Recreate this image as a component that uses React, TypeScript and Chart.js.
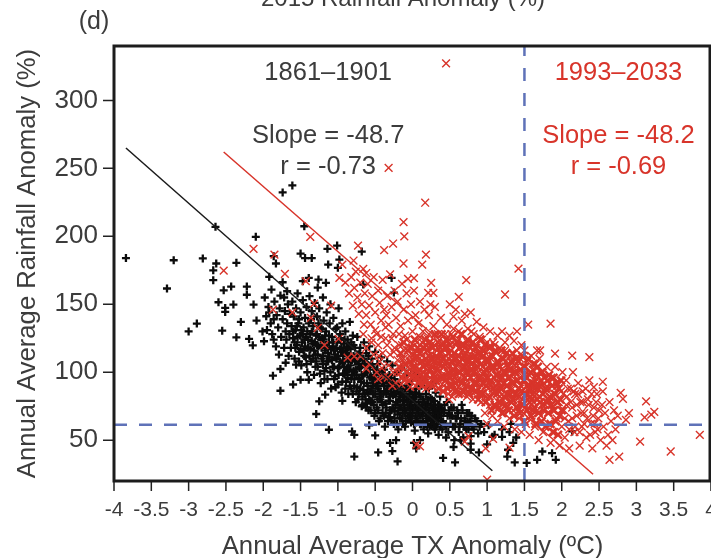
import React, { useEffect, useRef } from "react";
import { Chart, registerables } from "chart.js";

Chart.register(...registerables);

const xTicks = [-4, -3.5, -3, -2.5, -2, -1.5, -1, -0.5, 0, 0.5, 1, 1.5, 2, 2.5, 3, 3.5, 4];
const yTicks = [50, 100, 150, 200, 250, 300];

const blackFit = [-3.84, 265, 1.07, 27.5];
const redFit = [-2.53, 262, 2.42, 25];
const thresholdX = 1.5;
const thresholdY = 61.4;

// flat lists: x, y, x, y ...
const blackOutliers = [
-3.84,184,-3.2,182.4,-2.81,183.7,-2.63,180,-2.67,175,-2.36,180.5,-2.67,167.7,-3.29,161.6,-2.53,160.3,-2.43,163,-2.22,163,-2.22,157,-2.64,207,-2.1,199.6,-1.74,232.3,-1.61,237.4,-1.45,207.4,-1.14,190.8,-1.01,193.2,-0.68,188.8,-1.5,187.3,-1.44,184,-1.35,184,-1.86,185.4,-1.83,180,-1.13,179.2,-1,176.8,-0.98,182.9,-1.92,170.2,-1.74,166.2,-1.39,169.4,-1.47,167,-1.26,168.2,-1.16,165.8,-1.27,162.3,-0.66,164.5,-0.28,169.4,-0.25,158.6,-1.89,160.8,-1.77,156.4,-1.68,159.6,
-3,130,-2.89,135.8,-2.6,151.5,-2.51,147.3,-2.51,144.4,-2.4,149.8,-2.13,149.8,-2.55,130.6,-2.3,137,-2.09,138,-2.36,125.7,-2.19,124.5,-2.14,119.8,-2.01,130,-1.99,122.8,-1.86,124,-1.96,141.2,-1.87,97.5,-1.77,102.4,-1.77,86.4,-1.6,91,-1.5,94.5,-1.39,94.5,-1.7,107,-1.56,105.6,-1.29,69.3,-1.12,57.7,-1.25,78.6,-1.17,83.5,-0.94,79,-0.81,56.5,-0.78,54,-0.78,38,-0.46,41,-0.2,34.4,-0.5,53.5,-0.27,42,-0.22,50,-0.3,48,-0.58,61,
0.41,37,0.57,33.7,1.37,33.7,1.53,33.3,1.67,35.6,1.92,35.6,1.87,40.5,1.74,41.7,1.28,43,1.27,38,2.14,56.5,1.39,52,1.35,48,1.2,52.5,1.07,52.5,1,47,0.89,41,0.78,43,0.78,47.5,0.65,50,0.55,45,0.45,52,0.02,48,0.05,44,0.1,50,
];
const blackLeftBand = [
-1.98,155,-1.93,148,-1.9,136,-1.88,128,-1.85,152,-1.82,142,-1.8,133,-1.78,147,-1.76,126,-1.74,139,-1.72,155,-1.7,130,-1.95,131,-1.83,119,-1.79,113,-1.72,118,-1.71,145,-1.86,139,-1.92,144,-1.69,124,-1.68,136,-1.67,150,-1.66,112,-1.65,128,-1.64,143,
-1.63,118,-1.62,134,-1.61,152,-1.6,125,-1.59,141,-1.58,110,-1.57,131,-1.56,147,-1.55,120,-1.54,158,-1.53,136,-1.52,115,-1.51,127,-1.5,144,-1.49,105,-1.48,122,-1.47,153,-1.46,133,-1.45,112,-1.44,140,-1.43,126,-1.42,148,-1.41,100,-1.4,118,-1.39,136,-1.38,156,-1.37,128,-1.36,108,-1.35,145,-1.34,121,-1.33,134,-1.32,98,-1.31,151,-1.3,113,-1.29,127,-1.28,141,-1.27,104,-1.26,119,-1.25,147,-1.24,133,-1.23,92,-1.22,110,-1.21,125,-1.2,155,-1.19,138,-1.18,101,-1.17,116,-1.16,130,-1.15,144,-1.14,95,-1.13,108,-1.12,122,-1.11,136,-1.1,150,
-1.58,122,-1.55,134,-1.5,117,-1.47,128,-1.44,119,-1.41,130,-1.38,112,-1.35,123,-1.32,116,-1.29,108,-1.26,136,-1.23,124,-1.2,106,-1.17,127,-1.14,118,-1.11,111,-1.52,139,-1.43,111,-1.36,139,-1.28,120,-1.22,132,-1.16,103,
-1.09,88,-1.08,126,-1.07,104,-1.06,140,-1.05,116,-1.04,97,-1.03,132,-1.02,110,-1.01,122,-1,91,-0.99,147,-0.98,104,-0.97,128,-0.96,115,-0.95,85,-0.94,136,-0.93,99,-0.92,121,-0.91,108,-0.9,130,-0.89,93,-0.88,113,-0.87,124,-0.86,84,-0.85,102,-0.84,137,-0.83,117,-0.82,95,-0.81,109,-0.8,127,
-1.07,119,-1.03,111,-1,103,-0.97,117,-0.94,107,-0.91,99,-0.88,103,-0.85,119,-0.82,88,-0.79,101,-1.05,95,-1.01,133,-0.96,125,-0.9,116,-0.84,110,
-0.79,120,-0.78,90,-0.77,108,-0.76,78,-0.75,98,-0.74,126,-0.73,113,-0.72,84,-0.71,103,-0.7,118,-0.69,93,-0.68,75,-0.67,109,-0.66,87,-0.65,122,-0.64,99,-0.63,80,-0.62,114,-0.61,92,-0.6,105,-0.59,72,-0.58,119,-0.57,86,-0.56,97,-0.55,110,-0.54,78,-0.53,90,-0.52,102,-0.51,68,-0.5,115,
-0.78,100,-0.74,89,-0.71,95,-0.67,82,-0.64,106,-0.6,85,-0.57,104,-0.54,95,-0.5,84,-0.72,106,-0.66,98,-0.61,77,-0.56,79,-0.52,92,
];
const blackRightBand = [
-0.49,96,-0.48,74,-0.47,106,-0.46,88,-0.45,64,-0.44,100,-0.43,80,-0.42,111,-0.41,92,-0.4,70,-0.39,84,-0.38,102,-0.37,60,-0.36,77,-0.35,94,-0.34,108,-0.33,86,-0.32,67,-0.31,98,-0.3,79,-0.29,90,-0.28,72,-0.27,105,-0.26,83,-0.25,62,-0.24,95,-0.23,76,-0.22,88,-0.21,100,-0.2,69,
-0.47,90,-0.44,82,-0.41,78,-0.38,90,-0.35,84,-0.32,79,-0.29,96,-0.26,90,-0.23,84,-0.2,78,-0.42,98,-0.36,70,-0.3,67,-0.24,71,
-0.19,58,-0.18,92,-0.17,74,-0.16,85,-0.15,103,-0.14,66,-0.13,79,-0.12,96,-0.11,88,-0.1,60,-0.09,72,-0.08,82,-0.07,99,-0.06,68,-0.05,91,-0.04,76,-0.03,86,-0.02,63,-0.01,94,0,70,0.01,81,0.02,101,0.03,57,0.04,74,0.05,88,0.06,66,0.07,96,0.08,78,0.09,84,0.1,62,
-0.17,82,-0.13,70,-0.09,88,-0.05,80,-0.01,74,0.03,85,0.07,72,-0.11,76,-0.03,68,0.05,63,
0.11,74,0.12,90,0.13,68,0.14,80,0.15,58,0.16,94,0.17,72,0.18,84,0.19,64,0.2,77,0.21,55,0.22,88,0.23,70,0.24,81,0.25,61,0.26,74,0.27,92,0.28,66,0.29,79,0.3,58,0.31,85,0.32,71,0.33,62,0.34,76,0.35,54,0.36,68,0.37,82,0.38,64,0.39,73,0.4,58,
0.14,70,0.18,76,0.22,66,0.26,80,0.3,70,0.34,66,0.38,74,0.2,60,0.28,60,
0.42,70,0.44,62,0.46,78,0.48,56,0.5,68,0.52,74,0.54,60,0.56,50,0.58,66,0.6,72,0.62,56,0.64,62,0.66,76,0.68,52,0.7,66,0.72,58,0.74,63,0.76,70,0.78,53,0.8,60,0.84,66,0.88,55,0.92,62,0.96,56,1.02,61,1.1,54,1.2,58,1.3,56,1.32,62,
];
const blackCore = [
-1.6,130,-1.57,118,-1.54,126,-1.52,108,-1.49,131,-1.46,116,-1.45,124,-1.42,106,-1.4,124,-1.37,117,-1.35,130,-1.33,110,-1.31,122,-1.3,104,-1.28,128,-1.27,113,-1.25,126,-1.24,99,-1.22,118,-1.2,112,-1.19,124,-1.18,95,-1.16,120,-1.15,108,-1.13,114,-1.12,127,-1.1,100,-1.09,117,-1.08,109,-1.06,122,-1.05,104,-1.04,113,-1.03,89,-1.02,118,-1,112,-0.99,98,-0.98,124,-0.97,108,-0.95,118,-0.94,93,-0.93,112,-0.92,104,-0.91,124,-0.9,88,-0.89,100,-0.88,118,-0.87,96,-0.86,108,-0.85,112,-0.84,90,-0.83,105,-0.82,122,-0.81,98,-0.8,84,-0.79,112,-0.78,95,-0.77,118,-0.76,102,-0.75,86,-0.74,108,-0.73,80,-0.72,96,-0.71,114,-0.7,88,-0.69,104,-0.68,98,-0.67,76,-0.66,110,-0.65,92,-0.64,84,-0.63,104,-0.62,74,-0.61,100,-0.6,90,-0.59,112,-0.58,80,-0.57,96,-0.56,72,-0.55,88,-0.54,106,-0.53,84,-0.52,76,-0.51,98,-0.5,70,-0.49,90,-0.48,102,-0.47,80,-0.46,72,-0.45,94,-0.44,86,-0.43,66,-0.42,84,-0.41,100,-0.4,76,-0.39,92,-0.38,68,-0.37,86,-0.36,96,-0.35,74,-0.34,88,-0.33,64,-0.32,92,-0.31,82,-0.3,72,-0.29,86,-0.28,64,-0.27,92,-0.26,74,-0.25,84,-0.24,66,-0.23,92,-0.22,78,-0.21,62,-0.2,86,-0.19,72,-0.18,80,-0.17,66,-0.16,90,-0.15,74,-0.14,84,-0.13,62,-0.12,76,-0.11,82,-0.1,70,-0.09,64,-0.08,88,-0.07,78,-0.06,74,-0.05,66,-0.04,84,-0.03,72,-0.02,78,-0.01,66,0,82,0.01,74,0.02,62,0.03,78,0.04,68,0.05,82,0.06,72,0.07,64,0.08,70,0.09,76,0.1,68,0.11,82,0.12,62,0.13,76,0.14,64,0.15,72,0.16,78,0.17,62,0.18,68,0.19,74,0.2,66,0.21,80,0.22,72,0.23,60,0.24,68,0.25,76,0.26,64,0.27,70,0.28,74,0.29,62,0.3,76,0.31,66,0.32,60,0.33,72,0.34,64,0.35,70,0.36,76,0.37,60,0.38,68,0.39,62,0.4,72,0.41,64,0.43,76,0.45,60,0.47,68,0.49,72,0.51,62,0.53,68,0.55,74,0.57,60,0.59,66,0.61,70,0.63,60,0.65,66,0.67,72,0.69,60,0.71,64,0.73,70,0.75,58,0.77,64,0.79,68,0.82,58,0.86,64,0.9,60,
];
const redOutliers = [
0.45,327.2,-0.32,250.4,0.17,224.7,-0.12,210.4,-0.11,200,-0.26,194.7,-0.38,189.8,0.18,186.6,-0.12,180,0.13,179.2,1.42,176.3,-0.06,168.7,0.02,169.2,0.25,165.8,0.72,167.7,1.24,157.2,0.62,155.4,0.21,158.4,0.28,158.4,
-1.37,199.6,-2.13,190.8,-1.85,186.6,-2.53,174.8,-1.71,172.4,-0.73,193.2,-0.79,182.2,-0.94,179.2,-0.62,173,-1.43,167,-0.98,169.4,-1.87,146,-1.61,144,-1.32,150.5,-1.09,149,-1.36,140,-1.27,132.6,-1.18,120,-0.99,124.5,-0.87,110.7,-0.78,111.7,-0.62,102.6,-0.46,95,
1.85,135.8,1.55,135,1.67,116,1.71,116,1.91,113.7,2.14,112.2,2.37,111.2,2.55,93,2.43,89,2.55,85.9,2.79,84.8,2.82,80.4,3.13,78.6,3.24,70.8,3.2,68.8,3.11,66.8,2.9,70,2.86,65,3.85,54,3.05,49,3.46,41.7,2.77,38,2.64,35.6,1,21,0.05,46.7,0.1,45.5,0.98,44,1.3,44.6,1.08,51,0.7,49,0.75,53,
];
const redUpper = [
-0.9,166,-0.85,158,-0.82,170,-0.8,149,-0.78,162,-0.76,174,-0.74,155,-0.72,143,-0.7,166,-0.68,150,-0.66,176,-0.64,158,-0.62,142,-0.6,165,-0.58,149,-0.56,135,-0.54,156,-0.52,170,-0.5,144,-0.48,128,-0.46,160,-0.44,151,-0.42,138,-0.4,168,-0.38,146,-0.36,125,-0.34,156,-0.32,135,-0.3,172,-0.28,148,-0.26,128,-0.24,160,-0.22,140,-0.2,152,-0.18,120,-0.16,134,-0.14,165,-0.12,146,-0.1,127,-0.08,158,-0.06,138,-0.04,118,-0.02,150,0,130,0.02,160,0.04,142,0.06,122,0.08,136,0.1,152,0.12,115,0.14,130,0.16,146,
0.2,125,0.22,142,0.24,150,0.26,118,0.28,134,0.3,148,0.34,128,0.38,140,0.42,122,0.46,135,0.5,150,0.52,128,0.55,141,0.58,146,0.62,130,0.66,138,0.7,143,0.74,132,0.78,144,0.82,128,0.86,137,0.9,126,0.95,133,1,122,1.04,130,1.1,120,1.14,127,1.2,130,1.24,122,1.3,127,1.36,123,1.4,130,1.46,120,-0.65,135,-0.55,122,-0.45,112,-0.35,142,-0.25,115,-0.15,110,
];
const redCoreLeft = [
-0.7,112,-0.66,128,-0.62,118,-0.58,106,-0.55,125,-0.52,113,-0.5,131,-0.48,100,-0.46,120,-0.44,108,-0.42,126,-0.4,114,-0.38,97,-0.36,133,-0.34,120,-0.32,105,-0.3,113,-0.28,125,-0.26,100,-0.24,118,-0.22,92,-0.2,109,-0.18,128,-0.16,100,-0.14,120,-0.12,110,-0.1,95,-0.08,124,-0.06,104,-0.04,112,-0.02,98,0,121,0.02,108,0.04,90,0.06,115,0.08,100,0.1,126,0.12,94,0.14,108,0.16,118,0.18,88,0.2,102,0.22,128,0.24,96,0.26,112,0.3,120,0.32,104,0.34,92,0.36,114,0.4,98,
-0.33,96,-0.27,90,-0.21,100,-0.15,91,-0.09,105,-0.03,89,0.03,99,0.09,110,0.15,97,0.21,90,0.27,104,0.33,118,0.39,108,-0.41,103,-0.11,116,0.01,113,0.13,122,0.25,120,0.35,100,
0.41,120,0.42,90,0.43,106,0.44,128,0.46,97,0.47,114,0.48,84,0.49,124,0.5,104,0.51,92,0.52,116,0.53,82,0.54,108,0.55,132,0.56,96,0.58,120,0.59,88,0.6,110,0.61,100,0.62,124,0.64,94,0.65,115,0.66,84,0.67,128,0.68,104,0.7,118,0.71,92,0.72,108,0.73,82,0.74,122,0.75,98,0.76,112,0.78,88,0.79,130,0.8,102,
0.43,98,0.47,104,0.51,112,0.55,88,0.59,98,0.63,108,0.67,92,0.71,100,0.75,86,0.79,112,0.45,112,0.53,100,0.61,86,0.69,112,0.77,96,0.49,80,0.57,104,0.65,102,0.73,116,
];
const redCoreRight = [
0.81,80,0.82,116,0.83,92,0.85,108,0.86,120,0.87,86,0.88,100,0.9,112,0.91,94,0.92,78,0.93,124,0.94,104,0.95,84,0.96,116,0.97,70,0.98,96,0.99,108,1,62,1.01,88,1.02,118,1.03,100,1.04,76,1.05,110,1.06,92,1.07,68,1.08,122,1.09,84,1.1,104,
1.11,74,1.12,114,1.13,94,1.14,64,1.15,106,1.16,86,1.17,118,1.18,98,1.19,70,1.2,110,1.21,80,1.22,100,1.23,60,1.24,116,1.25,90,1.26,74,1.27,106,1.28,84,1.29,96,1.3,66,1.31,112,1.32,78,1.33,102,1.34,88,1.35,72,1.36,108,1.37,58,1.38,94,1.39,82,1.4,116,
0.83,104,0.87,108,0.91,86,0.95,98,0.99,82,1.03,92,1.07,102,1.11,90,1.15,78,1.19,102,1.23,92,1.27,96,1.31,88,1.35,98,1.39,104,0.85,96,0.93,90,1.01,104,1.09,96,1.17,82,1.25,108,1.33,92,
1.41,76,1.42,100,1.43,66,1.44,110,1.45,90,1.46,56,1.47,80,1.48,104,1.49,70,1.5,116,1.51,94,1.52,62,1.53,84,1.54,108,1.55,74,1.56,98,1.57,54,1.58,88,1.59,112,1.6,66,1.61,102,1.62,78,1.63,92,1.64,60,1.65,106,1.66,84,1.67,72,1.68,96,1.69,50,1.7,110,
1.44,88,1.48,94,1.52,82,1.56,86,1.6,80,1.64,96,1.68,88,1.72,100,1.72,68,1.74,84,1.75,56,1.76,92,1.78,76,1.8,104,1.82,62,1.83,88,1.85,48,1.86,96,1.88,72,1.89,82,1.9,56,1.91,104,1.93,66,1.94,90,1.96,78,1.97,46,1.99,86,2,60,2.01,100,2.03,72,
2.04,52,2.06,94,2.07,82,2.09,64,2.1,44,2.12,88,2.14,74,2.15,100,2.17,56,2.18,84,2.2,68,2.22,92,2.24,46,2.25,78,2.27,60,2.28,86,2.3,70,2.33,52,2.35,80,2.37,94,2.39,62,2.41,44,2.43,74,2.45,56,2.47,84,2.49,66,2.52,50,2.54,76,2.56,60,2.58,70,2.6,46,2.62,54,2.64,78,2.66,64,2.68,50,2.7,72,2.72,58,2.75,68,
2.02,84,2.04,66,2.06,76,2.08,88,2.1,58,2.12,78,2.14,66,2.16,86,2.18,60,2.2,76,2.22,84,2.24,56,2.26,70,2.28,78,2.3,62,2.32,88,2.34,66,2.36,76,2.38,54,2.4,84,2.42,68,2.44,62,2.46,78,2.48,58,2.5,72,
];
const redSolid = [
-0.18,104,-0.16,114,-0.14,96,-0.12,122,-0.1,106,-0.08,100,-0.06,116,-0.05,94,-0.03,108,-0.01,118,0,96,0.01,104,0.03,124,0.04,110,0.05,96,0.07,118,0.08,92,0.09,102,0.1,114,0.11,98,0.12,108,0.13,90,0.14,118,0.15,104,0.16,94,0.17,124,0.18,110,0.19,98,0.2,116,0.21,106,0.22,92,0.23,122,0.24,102,0.25,110,0.26,90,0.27,118,0.28,98,0.29,108,0.3,128,0.31,94,0.32,112,0.33,102,0.34,122,0.35,88,0.36,106,0.37,118,0.38,96,0.39,128,0.4,110,0.41,86,0.42,104,0.43,118,0.44,94,0.45,124,0.46,108,0.47,88,0.48,100,0.49,114,0.5,120,0.51,96,0.52,108,0.53,90,0.54,126,0.55,102,0.56,114,0.57,86,0.58,110,0.59,122,0.6,94,0.61,106,0.62,84,0.63,118,0.64,100,0.65,128,0.66,92,0.67,110,0.68,86,0.69,120,0.7,104,0.71,114,0.72,90,0.73,100,0.74,124,0.75,108,0.76,84,0.77,118,0.78,96,0.79,106,0.8,88,0.81,122,0.82,100,0.83,112,0.84,86,0.85,118,0.86,92,0.87,104,0.88,80,0.89,114,0.9,96,0.91,124,0.92,106,0.93,84,0.94,92,0.95,112,0.96,100,0.97,120,0.98,78,0.99,90,1,110,1.01,96,1.02,108,1.03,82,1.04,118,1.05,94,1.06,72,1.07,112,1.08,88,1.09,104,1.1,76,1.11,116,1.12,98,1.13,84,1.14,108,1.15,92,1.16,74,1.17,104,1.18,88,1.19,116,1.2,96,1.21,70,1.22,110,1.23,82,1.24,100,1.25,76,1.26,114,1.27,90,1.28,104,1.29,72,1.3,96,1.31,84,1.32,108,1.33,78,1.34,114,1.35,92,1.36,68,1.37,100,1.38,84,1.39,110,1.4,74,1.41,94,1.42,108,1.43,82,1.44,70,1.45,102,1.46,86,1.47,112,1.48,76,1.49,94,1.5,64,1.51,104,1.52,84,1.53,96,1.54,72,1.55,110,1.56,88,1.57,78,1.58,100,1.59,68,1.6,92,1.61,84,1.62,106,1.63,74,1.64,88,1.65,62,1.66,98,1.67,80,1.68,104,1.69,70,1.7,90,1.71,78,1.72,94,1.73,64,1.74,100,1.75,84,1.76,72,1.77,96,1.78,60,1.79,88,1.8,78,1.81,94,1.82,70,1.83,98,1.84,82,1.85,62,1.86,76,1.87,90,1.88,56,1.89,96,1.9,72,1.91,84,1.92,64,1.93,92,1.94,78,1.95,54,1.96,88,1.97,68,1.98,80,1.99,94,2,72,
0.02,102,0.06,112,0.1,94,0.14,100,0.18,120,0.22,112,0.26,104,0.3,96,0.34,110,0.38,114,0.42,96,0.46,118,0.5,90,0.54,98,0.58,92,0.62,112,0.66,120,0.7,96,0.74,110,0.78,102,0.82,92,0.86,110,0.9,84,0.94,116,0.98,102,1.02,92,1.06,104,1.1,86,1.14,98,1.18,78,1.22,92,1.26,84,1.3,102,1.34,80,1.38,100,1.42,88,1.46,76,1.5,98,1.54,90,1.58,82,1.62,72,1.66,90,1.7,82,1.74,76,1.78,88,1.82,80,
];

const pairs = (flat: number[]) => {
  const out: { x: number; y: number }[] = [];
  for (let i = 0; i + 1 < flat.length; i += 2) out.push({ x: flat[i], y: flat[i + 1] });
  return out;
};

const DARK = "#3c3c3c";
const RED = "#d8342a";
const BLUE = "#5f72b8";
const FONT = "'Liberation Sans', Arial, sans-serif";

const noteBlack = [
  { text: "1861–1901", x: -1.13, y: 320 },
  { text: "Slope = -48.7", x: -1.13, y: 274 },
  { text: "r = -0.73", x: -1.13, y: 251 },
];
const noteRed = [
  { text: "1993–2033", x: 2.76, y: 320 },
  { text: "Slope = -48.2", x: 2.76, y: 274 },
  { text: "r = -0.69", x: 2.76, y: 251 },
];

const textPlugin = {
  id: "notes",
  afterDraw(chart: any) {
    const { ctx, chartArea: a, scales } = chart;
    ctx.save();
    ctx.strokeStyle = "#1c1c1c";
    ctx.lineWidth = 3;
    ctx.strokeRect(a.left, a.top, a.right - a.left - 1, a.bottom - a.top);
    ctx.textAlign = "center";
    ctx.textBaseline = "middle";
    ctx.font = `25.5px ${FONT}`;
    ctx.fillStyle = DARK;
    for (const n of noteBlack) ctx.fillText(n.text, scales.x.getPixelForValue(n.x), scales.y.getPixelForValue(n.y));
    ctx.fillStyle = RED;
    for (const n of noteRed) ctx.fillText(n.text, scales.x.getPixelForValue(n.x), scales.y.getPixelForValue(n.y));
    ctx.fillStyle = DARK;
    ctx.font = `24px ${FONT}`;
    ctx.fillText("2015 Rainfall Anomaly (%)", 403, -1);
    ctx.font = `25px ${FONT}`;
    ctx.fillText("(d)", 94, 22);
    ctx.restore();
  },
};

export default function App() {
  const ref = useRef<HTMLCanvasElement>(null);
  useEffect(() => {
    document.body.style.margin = "0";
    const line = (flat: number[], color: string, width: number, dash: number[] = []) => ({
      data: pairs(flat),
      showLine: true,
      borderColor: color,
      borderWidth: width,
      borderDash: dash,
      pointRadius: 0,
      fill: false,
      order: 1,
    });
    const red = {
      pointStyle: "crossRot",
      pointRadius: 5.5,
      borderColor: RED,
      backgroundColor: RED,
    };
    const chart = new Chart(ref.current as HTMLCanvasElement, {
      type: "scatter",
      data: {
        datasets: [
          {
            label: "1861–1901",
            data: pairs([...blackOutliers, ...blackLeftBand, ...blackRightBand, ...blackCore]),
            pointStyle: "cross",
            pointRadius: 4,
            borderColor: "#0c0c0c",
            backgroundColor: "#0c0c0c",
            borderWidth: 2.3,
            order: 5,
          },
          {
            label: "1993–2033",
            data: pairs([...redOutliers, ...redUpper, ...redCoreLeft, ...redCoreRight]),
            ...red,
            borderWidth: 1.4,
            order: 4,
          },
          {
            label: "1993–2033 dense",
            data: pairs(redSolid),
            ...red,
            borderWidth: 2.5,
            order: 3,
          },
          { label: "fit black", ...line(blackFit, "#1a1a1a", 1.5) },
          { label: "fit red", ...line(redFit, RED, 1.5) },
          { label: "x threshold", ...line([thresholdX, 20, thresholdX, 340], BLUE, 2.5, [13, 12]) },
          { label: "y threshold", ...line([-4, thresholdY, 4, thresholdY], BLUE, 2.5, [13, 12]) },
        ] as any,
      },
      options: {
        responsive: false,
        animation: false,
        layout: { autoPadding: false, padding: { left: 0, right: 0, top: 46, bottom: 0 } },
        plugins: { legend: { display: false }, tooltip: { enabled: false } },
        scales: {
          x: {
            type: "linear",
            min: -4,
            max: 4,
            grid: { display: false, drawTicks: true },
            border: { display: false },
            afterBuildTicks: (s: any) => { s.ticks = xTicks.map((v) => ({ value: v })); },
            afterFit: (s: any) => { s.height = 77; s.paddingLeft = 0; s.paddingRight = 0; },
            ticks: {
              autoSkip: false,
              maxRotation: 0,
              minRotation: 0,
              color: DARK,
              padding: 9,
              font: { family: FONT, size: 21 },
              callback: (v: any) => String(v),
            },
            title: { display: true, text: "Annual Average TX Anomaly (ºC)", color: DARK, font: { family: FONT, size: 25.7 }, padding: { top: 0, bottom: -4 } },
          },
          y: {
            type: "linear",
            min: 20,
            max: 340,
            grid: { display: false },
            border: { display: false },
            afterBuildTicks: (s: any) => { s.ticks = yTicks.map((v) => ({ value: v })); },
            afterFit: (s: any) => { s.width = 114; s.paddingTop = 0; s.paddingBottom = 0; },
            ticks: { color: DARK, padding: 8, font: { family: FONT, size: 26 }, callback: (v: any) => String(v) },
            title: { display: true, text: "Annual Average Rainfall Anomaly (%)", color: DARK, font: { family: FONT, size: 25.7 }, padding: { top: 12, bottom: 0 } },
          },
        },
      },
      plugins: [
        {
          id: "tickMarks",
          afterDraw(c: any) {
            const { ctx, chartArea: a, scales } = c;
            ctx.save();
            ctx.strokeStyle = "#222";
            ctx.lineWidth = 1.5;
            ctx.beginPath();
            for (const v of xTicks) {
              const p = scales.x.getPixelForValue(v);
              ctx.moveTo(p, a.bottom);
              ctx.lineTo(p, a.bottom + 10);
            }
            for (const v of yTicks) {
              const p = scales.y.getPixelForValue(v);
              ctx.moveTo(a.left, p);
              ctx.lineTo(a.left - 11, p);
            }
            ctx.stroke();
            ctx.restore();
          },
        },
        textPlugin,
      ],
    } as any);
    return () => chart.destroy();
  }, []);
  return (
    <div style={{ position: "absolute", left: 0, top: 0, width: 711, height: 558 }}>
      <canvas ref={ref} width={711} height={558} style={{ display: "block" }} />
    </div>
  );
}
